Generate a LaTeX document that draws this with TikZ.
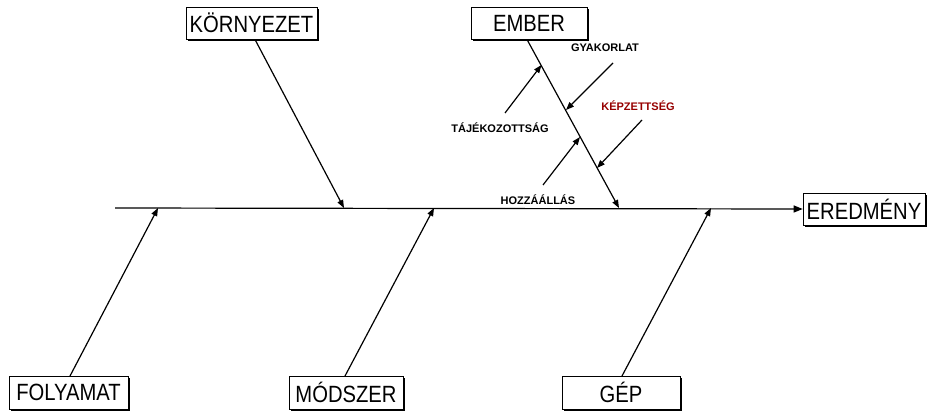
\documentclass[tikz,border=0pt]{standalone}
\usepackage{fontspec}
\setmainfont{Liberation Sans}
\usetikzlibrary{arrows.meta,shadows}
\definecolor{darkred}{RGB}{150,0,0}
\newcommand{\bxt}[1]{\scalebox{0.86}[1]{#1}}
\begin{document}
\begin{tikzpicture}[x=1pt,y=-1pt,
  catbox/.style={draw=black,line width=0.6pt,fill=white,rectangle,inner sep=0pt,
    minimum height=32pt,font=\fontsize{23.5}{23.5}\selectfont,
    drop shadow={shadow xshift=1.6pt,shadow yshift=-1.6pt,fill=black,opacity=1}},
  sublabel/.style={font=\fontsize{11}{11}\selectfont\bfseries,inner sep=0pt},
  bone/.style={line width=1.2pt,-{Triangle[length=8pt,width=6pt]}},
  spine/.style={line width=1.2pt,-{Triangle[length=9pt,width=7pt]}}]
\useasboundingbox (0,0) rectangle (927,410);
% boxes
\node[catbox,minimum width=131pt] (korny) at (251.5,23) {\bxt{KÖRNYEZET}};
\node[catbox,minimum width=116pt] (ember) at (529,23) {\bxt{EMBER}};
\node[catbox,minimum width=122pt] (ered) at (864,209) {\bxt{EREDMÉNY}};
\node[catbox,minimum width=119pt,minimum height=33pt] (foly) at (68.5,392.5) {\bxt{FOLYAMAT}};
\node[catbox,minimum width=114pt,minimum height=33pt] (mod) at (346,392.5) {\bxt{MÓDSZER}};
\node[catbox,minimum width=118pt,minimum height=33pt] (gep) at (621,392.5) {\bxt{GÉP}};
% sub labels
\node[sublabel] (taj) at (500,128) {TÁJÉKOZOTTSÁG};
\node[sublabel] (gyak) at (605,48) {GYAKORLAT};
\node[sublabel,text=darkred] (kep) at (638,106) {KÉPZETTSÉG};
\node[sublabel] (hozz) at (538,200) {HOZZÁÁLLÁS};
% coordinates
\coordinate (sstart) at (115,208);
\coordinate (kornyS) at (255,39.5);
\coordinate (emberS) at (527,39.5);
\coordinate (folyN) at (70,376);
\coordinate (modN) at (345,376);
\coordinate (gepN) at (622,376);
\coordinate (kornyE) at (344,208);
\coordinate (emberE) at (619,208);
\coordinate (folyE) at (158,208);
\coordinate (modE) at (434,208);
\coordinate (gepE) at (711,208);
\coordinate (tajA) at (505,113);
\coordinate (tajE) at (541.5,65);
\coordinate (gyakA) at (613,63);
\coordinate (gyakE) at (566,110);
\coordinate (kepA) at (642,120);
\coordinate (kepE) at (597,168);
\coordinate (hozzA) at (543,185);
\coordinate (hozzE) at (580,137);
% spine
\draw[spine] (sstart) -- (ered.west);
% bones
\draw[bone] (kornyS) -- (kornyE);
\draw[bone] (emberS) -- (emberE);
\draw[bone] (folyN) -- (folyE);
\draw[bone] (modN) -- (modE);
\draw[bone] (gepN) -- (gepE);
% sub bones
\draw[bone] (tajA) -- (tajE);
\draw[bone] (gyakA) -- (gyakE);
\draw[bone] (kepA) -- (kepE);
\draw[bone] (hozzA) -- (hozzE);
\end{tikzpicture}
\end{document}
